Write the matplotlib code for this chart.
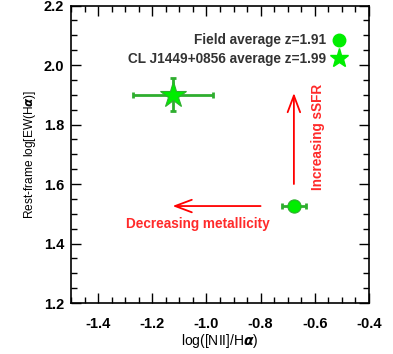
import matplotlib.pyplot as plt
from matplotlib.ticker import MultipleLocator

plt.rcParams['font.family'] = ['Liberation Sans', 'DejaVu Sans']
plt.rcParams['font.weight'] = 'bold'
plt.rcParams['mathtext.fontset'] = 'dejavusans'

# averages: log([NII]/Ha), log EW(Ha) and their errors
field_x = [-0.677]
field_y = [1.526]
field_xerr = [0.045]
field_yerr = [0.012]

cl_x = [-1.122]
cl_y = [1.900]
cl_xerr = [0.148]
cl_yerr = [0.055]

field_label = 'Field average z=1.91'
cl_label = 'CL J1449+0856 average z=1.99'

bar_green = '#2fae2f'
fill_green = '#00ee00'

fig = plt.figure(figsize=(3.93, 3.54), dpi=100)
ax = fig.add_axes([0.1807, 0.144, 0.758, 0.8404])

ax.errorbar(field_x, field_y, xerr=field_xerr, yerr=field_yerr, fmt='none',
            ecolor=bar_green, elinewidth=2.0, capsize=2, capthick=2.0, zorder=2)
ax.plot(field_x, field_y, 'o', ms=9.5, mfc=fill_green, mec=bar_green, mew=0.8,
        zorder=3)
ax.errorbar(cl_x, cl_y, xerr=cl_xerr, yerr=cl_yerr, fmt='none',
            ecolor=bar_green, elinewidth=2.0, capsize=2, capthick=2.0, zorder=2)
ax.plot(cl_x, cl_y, '*', ms=20, mfc=fill_green, mec=bar_green, mew=0.8,
        zorder=3)

# legend handles, marker after the text
h1, = ax.plot([], [], 'o', ms=9, color=fill_green, mec=fill_green)
h2, = ax.plot([], [], '*', ms=14, color=fill_green, mec=fill_green)
leg = ax.legend([h1, h2], [field_label, cl_label], loc='upper right',
                bbox_to_anchor=(0.935, 0.925), frameon=False, markerfirst=False,
                fontsize=9.8, handlelength=0.8, handletextpad=0.5,
                labelspacing=0.35, borderaxespad=0)
for t in leg.get_texts():
    t.set_color('#333333')

# trend arrows
arrow = dict(arrowstyle='->, head_length=1.2, head_width=0.45', color='red',
             lw=1.3, shrinkA=0, shrinkB=0)
ax.annotate('', xy=(-1.125, 1.526), xytext=(-0.80, 1.526), arrowprops=arrow)
ax.annotate('', xy=(-0.677, 1.906), xytext=(-0.677, 1.60), arrowprops=arrow)
ax.text(-1.03, 1.466, 'Decreasing metallicity', color='#ff2a2a', fontsize=9.8,
        ha='center', va='center')
ax.text(-0.589, 1.76, 'Increasing sSFR', color='#ff2a2a', fontsize=9.8,
        ha='center', va='center', rotation=90)

ax.set_xlim(-1.5, -0.4)
ax.set_ylim(1.2, 2.2)
ax.xaxis.set_major_locator(MultipleLocator(0.2))
ax.xaxis.set_minor_locator(MultipleLocator(0.05))
ax.yaxis.set_major_locator(MultipleLocator(0.2))
ax.yaxis.set_minor_locator(MultipleLocator(0.05))
ax.xaxis.set_major_formatter(lambda v, p: f'{v:.1f}')
ax.yaxis.set_major_formatter(lambda v, p: f'{v:.1f}')
ax.tick_params(which='both', direction='in', top=True, right=True,
               labelsize=10.5, width=1)
ax.tick_params(axis='x', pad=10)
ax.tick_params(axis='y', pad=5)
ax.tick_params(which='major', length=7)
ax.tick_params(which='minor', length=4)
for s in ax.spines.values():
    s.set_linewidth(1.2)

ax.set_xlabel(r'log([NII]/H$\alpha$)', fontsize=10, labelpad=1)
ax.set_ylabel(r'Rest-frame log[EW(H$\alpha$)]', fontsize=8.6, labelpad=4)

fig.savefig('out.png', dpi=100)
